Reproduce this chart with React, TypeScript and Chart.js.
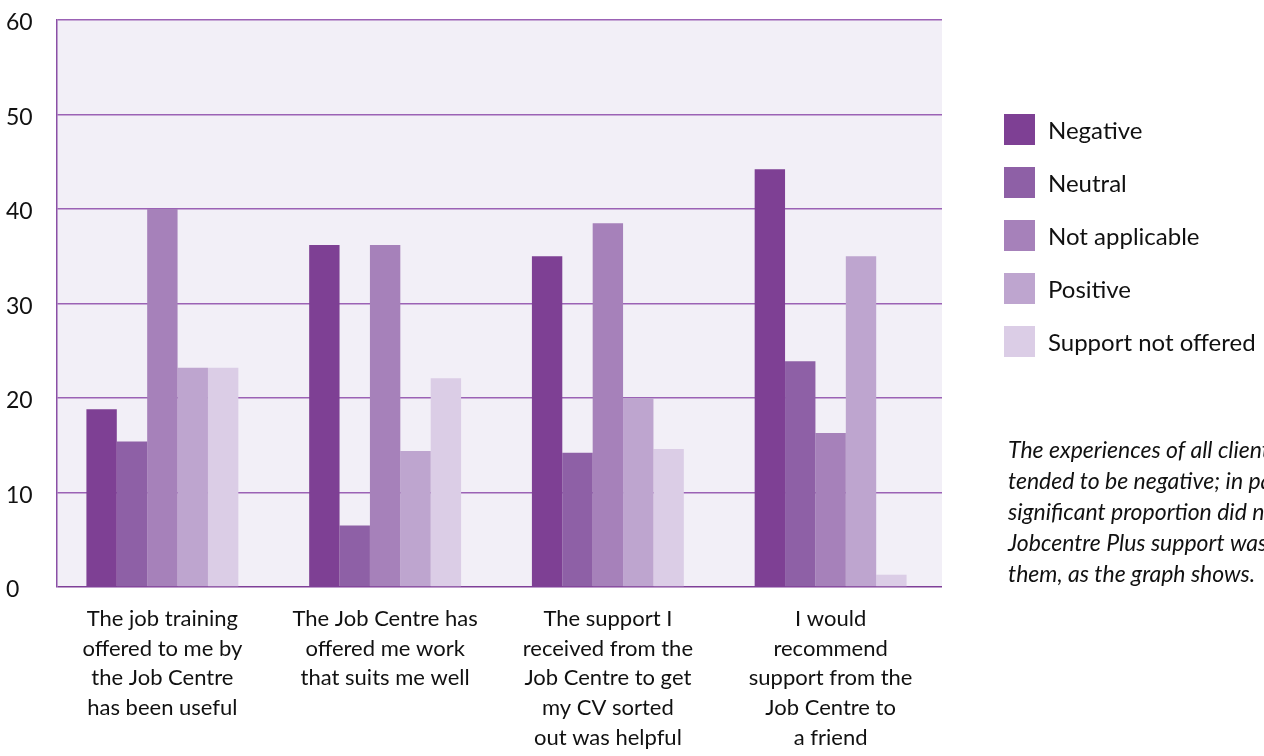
import React, { useEffect, useRef } from 'react';
import { Chart, registerables } from 'chart.js';

Chart.register(...registerables);

const categories: string[][] = [
  ['The job training', 'offered to me by', 'the Job Centre', 'has been useful'],
  ['The Job Centre has', 'offered me work', 'that suits me well'],
  ['The support I', 'received from the', 'Job Centre to get', 'my CV sorted', 'out was helpful'],
  ['I would', 'recommend', 'support from the', 'Job Centre to', 'a friend'],
];

const seriesNames = ['Negative', 'Neutral', 'Not applicable', 'Positive', 'Support not offered'];
const negative = [18.8, 36.2, 35.0, 44.2];
const neutral = [15.4, 6.5, 14.2, 23.9];
const notApplicable = [40.0, 36.2, 38.5, 16.3];
const positive = [23.2, 14.4, 20.0, 35.0];
const supportNotOffered = [23.2, 22.1, 14.6, 1.3];
const seriesColors = ['#7e4094', '#8e60a6', '#a681ba', '#bea5cf', '#dbcde6'];

const yMin = 0;
const yMax = 60;
const yStep = 10;

const noteLines = [
  'The experiences of all clients',
  'tended to be negative; in particular, a',
  'significant proportion did not feel',
  'Jobcentre Plus support was useful to',
  'them, as the graph shows.',
];

const FONT = 'Lato, "Open Sans", "DejaVu Sans", sans-serif';

const plotBgPlugin = {
  id: 'plotBg',
  beforeDraw(chart: any) {
    const { ctx, chartArea } = chart;
    ctx.save();
    ctx.fillStyle = '#f2eff7';
    ctx.fillRect(chartArea.left, chartArea.top, chartArea.right - chartArea.left, chartArea.bottom - chartArea.top);
    ctx.restore();
  },
};

const shiftPlugin = {
  id: 'shiftX',
  afterLayout(chart: any) {
    const x = chart.scales.x;
    x.left = chart.chartArea.left - 6;
    x.configure();
  },
};

const sideTextPlugin = {
  id: 'sideText',
  afterDraw(chart: any) {
    const { ctx } = chart;
    ctx.save();
    // legend
    chart.data.datasets.forEach((ds: any, i: number) => {
      const y = 114 + 53 * i;
      ctx.fillStyle = ds.backgroundColor;
      ctx.fillRect(1004, y, 31, 31);
      ctx.fillStyle = '#111111';
      ctx.font = `24px ${FONT}`;
      ctx.textAlign = 'left';
      ctx.textBaseline = 'alphabetic';
      ctx.fillText(ds.label, 1048, y + 25);
    });
    // note
    ctx.font = `italic 23px ${FONT}`;
    ctx.fillStyle = '#111111';
    noteLines.forEach((line, i) => {
      ctx.fillText(line, 1008, 458 + 31 * i);
    });
    ctx.restore();
  },
};

export default function App() {
  const ref = useRef<HTMLCanvasElement | null>(null);

  useEffect(() => {
    if (!ref.current) return;
    const values = [negative, neutral, notApplicable, positive, supportNotOffered];
    const chart = new Chart(ref.current, {
      type: 'bar',
      data: {
        labels: categories as any,
        datasets: seriesNames.map((name, i) => ({
          label: name,
          data: values[i],
          backgroundColor: seriesColors[i],
          borderWidth: 0,
          barPercentage: 1,
          categoryPercentage: 0.682,
        })),
      },
      options: {
        responsive: false,
        animation: false,
        layout: { padding: { left: 6, top: 20, right: 322, bottom: 0 } },
        plugins: {
          legend: { display: false },
          tooltip: { enabled: false },
          title: { display: false },
        },
        scales: {
          x: {
            grid: { display: false },
            border: { display: false },
            ticks: {
              color: '#111111',
              font: { family: FONT, size: 22, lineHeight: 1.35 },
              padding: 9,
              maxRotation: 0,
              autoSkip: false,
            },
            afterFit(scale: any) {
              scale.height = 169;
            },
          },
          y: {
            min: yMin,
            max: yMax,
            border: { display: true, color: '#8a4fa6', width: 1.5 },
            grid: {
              drawTicks: false,
              color: (c: any) => (c.tick && c.tick.value === 0 ? '#7f3f98' : '#9b62b5'),
              lineWidth: 1.5,
            },
            ticks: {
              stepSize: yStep,
              color: '#111111',
              crossAlign: 'far',
              labelOffset: 3,
              font: { family: FONT, size: 23 },
            },
            afterFit(scale: any) {
              scale.width = 51;
            },
          },
        },
      },
      plugins: [plotBgPlugin, shiftPlugin, sideTextPlugin],
    } as any);
    return () => chart.destroy();
  }, []);

  return (
    <canvas
      ref={ref}
      width={1264}
      height={756}
      style={{ position: 'absolute', left: 0, top: 0, width: 1264, height: 756, display: 'block' }}
    />
  );
}
